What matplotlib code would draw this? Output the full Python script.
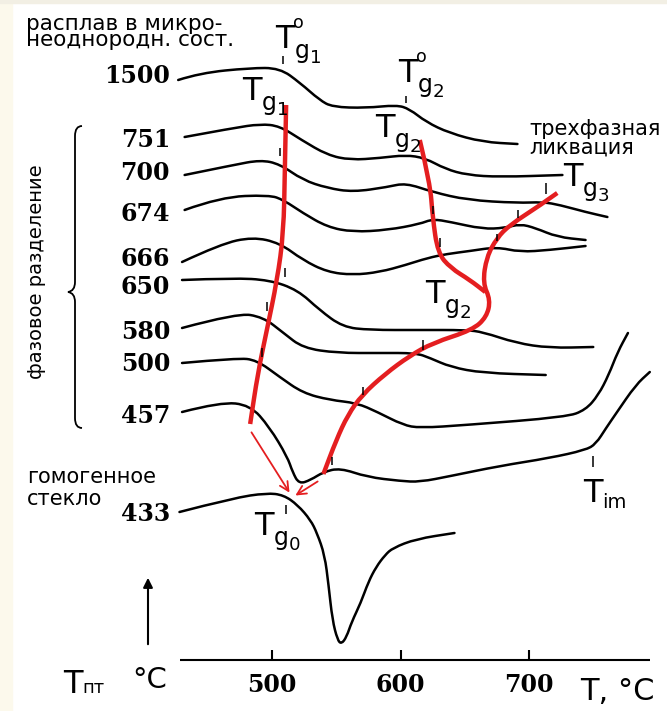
import numpy as np
import matplotlib.pyplot as plt
from matplotlib.path import Path
from matplotlib.patches import PathPatch, Rectangle

# --- DTA curves: temperature (deg C) and vertical position of the trace ---
c1500_t = [427, 444, 483, 506, 522, 537, 547, 573, 597, 607, 620, 638, 664, 691]
c1500_y = [80, 73, 68, 68, 83, 100, 107, 108, 105, 109, 122, 133, 142, 144]

c751_t = [432, 470, 491, 506, 523, 543, 561, 584, 604, 619, 635, 652, 677, 726]
c751_y = [137, 128, 124, 126, 140, 155, 160, 158, 155, 158, 169, 175, 177, 175]

c700_t = [432, 470, 491, 506, 524, 543, 563, 590, 604, 625, 652, 691, 711, 724, 744, 761]
c700_y = [175, 165, 160, 164, 180, 188, 192, 187, 183, 192, 200, 203, 202, 205, 212, 217]

c674_t = [432, 460, 498, 509, 524, 543, 563, 590, 615, 625, 639, 664, 681, 693, 705, 722, 744]
c674_y = [210, 197, 195, 200, 213, 227, 232, 230, 224, 219, 222, 229, 228, 224, 228, 237, 240]

c666_t = [430, 460, 485, 506, 524, 543, 563, 584, 604, 621, 636, 654, 675, 693, 716, 744]
c666_y = [262, 244, 237, 243, 260, 272, 275, 272, 265, 258, 254, 251, 247, 252, 250, 246]

c650_t = [430, 470, 498, 520, 537, 555, 576, 615, 651, 664, 690, 716, 750]
c650_y = [280, 278, 280, 290, 310, 327, 330, 330, 330, 332, 343, 348, 347]

c580_t = [430, 473, 493, 509, 524, 551, 584, 612, 623, 639, 664, 713]
c580_y = [328, 313, 317, 333, 348, 353, 353, 353, 358, 367, 373, 375]

c500_t = [430, 473, 488, 506, 524, 545, 566, 582, 602, 615, 651, 729, 744, 754, 762, 769, 777]
c500_y = [363, 358, 360, 377, 393, 400, 403, 412, 425, 428, 425, 417, 410, 395, 375, 352, 333]

c457_t = [430, 460, 483, 498, 512, 516, 521, 530, 540, 553, 574, 600, 615, 639, 677, 716,
          744, 752, 760, 768, 783, 794]
c457_y = [412, 402, 405, 427, 457, 472, 484, 480, 472, 468, 477, 481, 482, 476, 466, 458,
          450, 444, 428, 413, 385, 372]

c433_t = [428, 470, 496, 509, 520, 530, 535, 541, 544, 547, 551, 554, 558, 562, 569, 575,
          581, 588, 594, 612, 642]
c433_y = [512, 498, 493, 495, 505, 520, 533, 555, 585, 620, 640, 644, 637, 622, 603, 582,
          567, 555, 548, 539, 533]

curves = [
    ("1500", c1500_t, c1500_y, 83),
    ("751", c751_t, c751_y, 147),
    ("700", c700_t, c700_y, 180),
    ("674", c674_t, c674_y, 221),
    ("666", c666_t, c666_y, 266),
    ("650", c650_t, c650_y, 294),
    ("580", c580_t, c580_y, 339),
    ("500", c500_t, c500_y, 371),
    ("457", c457_t, c457_y, 423),
    ("433", c433_t, c433_y, 521),
]

# --- glass transition tracks (red) ---
tg1_t = [511, 510, 509, 504, 496, 489, 483]
tg1_y = [105, 170, 233, 280, 330, 373, 424]

tg2_t = [615, 623, 625, 629, 639, 654, 666]
tg2_y = [140, 183, 217, 253, 268, 280, 292]

tg3_t = [722, 709, 685, 675, 667, 664, 670, 667, 656, 625, 607, 588, 570, 559, 550, 540]
tg3_y = [193, 205, 225, 238, 257, 283, 300, 317, 330, 343, 356, 374, 395, 415, 440, 474]

# --- small tick marks on the curves ---
mark_t = [508.6, 604.3, 506.2, 510.1, 496.1, 492.2, 570.8, 617.5, 546.7, 625.3, 691.4,
          630.7, 675.1, 713.2, 749.8, 510.9]
mark_top = [56, 96, 148, 268, 302, 348, 387, 340, 457, 206, 210, 238, 234, 183, 456, 505]
mark_bot = [64, 103, 156, 277, 311, 357, 395, 350, 465, 214, 218, 247, 241, 194, 467, 514]

axis_ticks = [500, 600, 700]

PX_PER_DEG = 1.285
T_LEFT = 500 - 272 / PX_PER_DEG
RED = "#e41e20"


def tx(px):
    return T_LEFT + px / PX_PER_DEG


def smooth_path(t, y):
    pts = np.column_stack([t, y]).astype(float)
    verts = [pts[0]]
    codes = [Path.MOVETO]
    for i in range(1, len(pts) - 1):
        verts += [pts[i], (pts[i] + pts[i + 1]) / 2]
        codes += [Path.CURVE3, Path.CURVE3]
    verts.append(pts[-1])
    codes.append(Path.LINETO)
    return Path(verts, codes)


def draw(ax, t, y, color, lw, capstyle="round"):
    ax.add_patch(PathPatch(smooth_path(t, y), fill=False, edgecolor=color, lw=lw,
                           capstyle=capstyle, joinstyle="round"))


def tg_label(ax, px, base, idx, sup=False, size=23, g="g"):
    x0 = tx(px)
    ax.text(x0, base, "T", fontsize=size, va="baseline", ha="left")
    ax.annotate(g, (x0, base), xytext=(14.4, -7.2), textcoords="offset points",
                fontsize=size * 0.74, va="baseline", ha="left")
    if idx:
        ax.annotate(idx, (x0, base), xytext=(25.0, -10.8), textcoords="offset points",
                    fontsize=size * 0.57, va="baseline", ha="left")
    if sup:
        ax.annotate("o", (x0, base), xytext=(13.2, 14.5), textcoords="offset points",
                    fontsize=size * 0.55, va="baseline", ha="left")


fig = plt.figure(figsize=(6.67, 7.11), dpi=100)
ax = fig.add_axes([0, 0, 1, 1])
ax.set_xlim(tx(0), tx(667))
ax.set_ylim(711, 0)
ax.axis("off")

fig.add_artist(Rectangle((0, 0), 12 / 667, 1, transform=fig.transFigure,
                         color="#fcf9ec", zorder=0))
fig.add_artist(Rectangle((0, 1 - 3 / 711), 1, 3 / 711, transform=fig.transFigure,
                         color="#f2efe4", zorder=0))

for label, t, y, base in curves:
    draw(ax, t, y, "black", 1.8)
    ax.text(tx(170), base, label, ha="right", va="baseline", fontsize=17,
            fontweight="bold", family="DejaVu Serif")

ax.vlines(mark_t, mark_top, mark_bot, color="black", lw=1.1)

draw(ax, tg1_t, tg1_y, RED, 3.2, "butt")
draw(ax, tg2_t, tg2_y, RED, 3.2, "butt")
draw(ax, tg3_t, tg3_y, RED, 3.2, "butt")

arrow = dict(arrowstyle="->", color=RED, lw=1.3, mutation_scale=16)
ax.annotate("", xy=(tx(291), 495), xytext=(tx(250), 430), arrowprops=arrow)
ax.annotate("", xy=(tx(293), 497), xytext=(tx(320), 480), arrowprops=arrow)

# temperature axis
ax.hlines(660, tx(180), tx(650), color="black", lw=1.5)
ax.vlines(axis_ticks, 650, 660, color="black", lw=1.5)
for t in axis_ticks:
    ax.text(t, 692, str(t), ha="center", va="baseline", fontsize=17,
            fontweight="bold", family="DejaVu Serif")
ax.text(tx(580), 700, "T, °C", fontsize=22, va="baseline", ha="left")
ax.text(tx(132), 688, "°C", fontsize=21, va="baseline", ha="left")
ax.text(tx(63), 693, "T", fontsize=23, va="baseline", ha="left")
ax.text(tx(82), 693, "пт", fontsize=13, va="baseline", ha="left")
ax.annotate("", xy=(tx(148), 575), xytext=(tx(148), 647),
            arrowprops=dict(arrowstyle="-|>", color="black", lw=1.5, mutation_scale=14))

# left / right annotations (tight line spacing as in the original)
ax.text(tx(26), 14, "расплав в микро-\nнеоднородн. сост.", fontsize=15.5,
        va="top", ha="left", linespacing=0.78)
ax.text(tx(27), 483, "гомогенное", fontsize=15, va="baseline", ha="left")
ax.text(tx(27), 505, "стекло", fontsize=15, va="baseline", ha="left")
ax.text(tx(529), 119, "трехфазная\nликвация", fontsize=15, va="top", ha="left",
        linespacing=0.88)
ax.text(tx(36), 272, "фазовое разделение", fontsize=14, rotation=90,
        ha="center", va="center")

# curly brace
bx = [tx(82), tx(75), tx(75), tx(75), tx(75), tx(68), tx(75), tx(75), tx(75), tx(75), tx(82)]
by = [126, 126, 136, 282, 291, 292, 293, 302, 418, 428, 428]
brace = Path(np.column_stack([bx, by]),
             [Path.MOVETO, Path.CURVE3, Path.CURVE3, Path.LINETO, Path.CURVE3, Path.CURVE3,
              Path.CURVE3, Path.CURVE3, Path.LINETO, Path.CURVE3, Path.CURVE3])
ax.add_patch(PathPatch(brace, fill=False, edgecolor="black", lw=1.3))

# transition labels
tg_label(ax, 275, 48, "1", sup=True)
tg_label(ax, 242, 100, "1")
tg_label(ax, 398, 82, "2", sup=True)
tg_label(ax, 375, 137, "2")
tg_label(ax, 563, 186, "3")
tg_label(ax, 425, 303, "2")
tg_label(ax, 254, 535, "0")
tg_label(ax, 583, 502, "", size=23, g="")
ax.annotate("im", (tx(583), 502), xytext=(13.5, -4), textcoords="offset points",
            fontsize=14, va="baseline", ha="left")

fig.savefig("out.png", dpi=100)
